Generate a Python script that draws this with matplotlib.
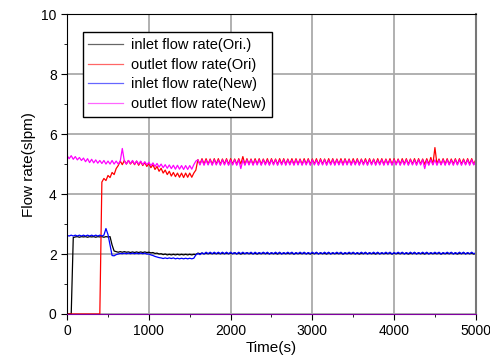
import numpy as np
import matplotlib
matplotlib.use("Agg")
import matplotlib.pyplot as plt
from matplotlib.ticker import MultipleLocator

plt.rcParams['font.family'] = ['Liberation Sans', 'DejaVu Sans']

# sample times (s), 25 s spacing
time_s = np.arange(0, 5001, 25)

inlet_ori = [
    0, 0, 0, 2.55, 2.57, 2.58, 2.56, 2.58, 2.57, 2.58, 2.56, 2.58, 2.57, 2.58, 2.56, 2.58, 2.57, 2.58, 2.56, 2.58,
    2.57, 2.58, 2.30, 2.10, 2.08, 2.06, 2.08, 2.06, 2.08, 2.06, 2.07, 2.05, 2.07, 2.05, 2.07, 2.05, 2.07, 2.05, 2.07, 2.05,
    2.06, 2.04, 2.05, 2.02, 2.03, 2.00, 2.01, 1.98, 2.00, 1.97, 1.99, 1.97, 1.99, 1.97, 1.99, 1.97, 1.99, 1.97, 1.99, 1.97,
    1.99, 1.97, 1.99, 1.98, 2.03, 2.01, 2.03, 2.01, 2.03, 2.01, 2.03, 2.01, 2.03, 2.01, 2.03, 2.01, 2.03, 2.01, 2.03, 2.01,
    2.03, 2.01, 2.04, 2.01, 2.03, 2.00, 2.03, 2.01, 2.04, 2.01, 2.03, 2.01, 2.03, 2.00, 2.03, 2.01, 2.04, 2.01, 2.03, 2.01,
    2.03, 2.01, 2.03, 2.00, 2.04, 2.01, 2.03, 2.01, 2.03, 2.01, 2.04, 2.00, 2.03, 2.01, 2.03, 2.01, 2.04, 2.01, 2.03, 2.00,
    2.03, 2.01, 2.04, 2.01, 2.03, 2.01, 2.03, 2.00, 2.04, 2.01, 2.03, 2.01, 2.03, 2.01, 2.04, 2.00, 2.03, 2.01, 2.03, 2.01,
    2.04, 2.01, 2.03, 2.00, 2.03, 2.01, 2.04, 2.01, 2.03, 2.01, 2.03, 2.00, 2.04, 2.01, 2.03, 2.01, 2.03, 2.01, 2.04, 2.00,
    2.03, 2.01, 2.03, 2.01, 2.04, 2.01, 2.03, 2.00, 2.03, 2.01, 2.04, 2.01, 2.03, 2.01, 2.03, 2.00, 2.04, 2.01, 2.03, 2.01,
    2.03, 2.01, 2.04, 2.00, 2.03, 2.01, 2.03, 2.01, 2.04, 2.01, 2.03, 2.00, 2.03, 2.01, 2.04, 2.01, 2.03, 2.01, 2.03, 2.00,
    2.02,
]

outlet_ori = [
    0, 0, 0, 0, 0, 0, 0, 0, 0, 0, 0, 0, 0, 0, 0, 0, 0, 4.40, 4.52, 4.45,
    4.62, 4.55, 4.72, 4.65, 4.85, 4.95, 5.10, 4.98, 5.12, 5.00, 5.12, 5.00, 5.10, 4.98, 5.10, 4.96, 5.08, 4.95, 5.05, 4.92,
    5.02, 4.88, 4.98, 4.82, 4.92, 4.76, 4.86, 4.70, 4.80, 4.65, 4.76, 4.60, 4.72, 4.58, 4.70, 4.56, 4.70, 4.55, 4.70, 4.56,
    4.70, 4.56, 4.70, 4.80, 5.15, 5.00, 5.18, 5.00, 5.18, 5.00, 5.17, 4.99, 5.18, 5.00, 5.18, 4.99, 5.17, 5.00, 5.18, 4.99,
    5.18, 5.00, 5.17, 4.99, 5.18, 5.00, 5.25, 4.99, 5.18, 5.00, 5.17, 4.99, 5.18, 5.00, 5.18, 4.99, 5.17, 5.00, 5.18, 4.99,
    5.18, 5.00, 5.17, 4.99, 5.18, 5.00, 5.18, 4.99, 5.17, 5.00, 5.18, 4.99, 5.18, 5.00, 5.17, 4.99, 5.18, 5.00, 5.18, 4.99,
    5.17, 5.00, 5.18, 4.99, 5.18, 5.00, 5.17, 4.99, 5.18, 5.00, 5.18, 4.99, 5.17, 5.00, 5.18, 4.99, 5.18, 5.00, 5.17, 4.99,
    5.18, 5.00, 5.18, 4.99, 5.17, 5.00, 5.18, 4.99, 5.18, 5.00, 5.17, 4.99, 5.18, 5.00, 5.18, 4.99, 5.17, 5.00, 5.18, 4.99,
    5.18, 5.00, 5.17, 4.99, 5.18, 5.00, 5.18, 4.99, 5.17, 5.00, 5.18, 4.99, 5.18, 5.00, 5.17, 4.99, 5.18, 5.00, 5.22, 4.99,
    5.55, 5.00, 5.17, 4.99, 5.18, 5.00, 5.18, 4.99, 5.17, 5.00, 5.18, 4.99, 5.18, 5.00, 5.17, 4.99, 5.18, 5.00, 5.18, 4.99,
    5.15,
]

inlet_new = [
    2.62, 2.60, 2.63, 2.60, 2.63, 2.60, 2.63, 2.60, 2.63, 2.60, 2.63, 2.60, 2.63, 2.60, 2.63, 2.60, 2.63, 2.60, 2.63, 2.85,
    2.65, 2.30, 1.95, 1.94, 1.98, 2.00, 2.02, 2.01, 2.03, 2.01, 2.03, 2.01, 2.03, 2.01, 2.03, 2.01, 2.03, 2.01, 2.03, 2.00,
    2.00, 1.97, 1.95, 1.92, 1.90, 1.88, 1.87, 1.85, 1.87, 1.85, 1.87, 1.85, 1.87, 1.84, 1.86, 1.84, 1.86, 1.84, 1.86, 1.84,
    1.86, 1.84, 1.86, 1.97, 2.02, 1.98, 2.04, 2.00, 2.06, 2.01, 2.06, 2.01, 2.06, 2.01, 2.06, 2.01, 2.06, 2.01, 2.06, 2.01,
    2.06, 2.01, 2.05, 2.00, 2.06, 2.01, 2.06, 2.01, 2.05, 2.01, 2.06, 2.00, 2.06, 2.01, 2.05, 2.01, 2.06, 2.01, 2.06, 2.00,
    2.05, 2.01, 2.06, 2.01, 2.06, 2.00, 2.05, 2.01, 2.06, 2.01, 2.06, 2.00, 2.05, 2.01, 2.06, 2.01, 2.06, 2.00, 2.05, 2.01,
    2.06, 2.01, 2.06, 2.00, 2.05, 2.01, 2.06, 2.01, 2.06, 2.00, 2.05, 2.01, 2.06, 2.01, 2.06, 2.00, 2.05, 2.01, 2.06, 2.01,
    2.06, 2.00, 2.05, 2.01, 2.06, 2.01, 2.06, 2.00, 2.05, 2.01, 2.06, 2.01, 2.06, 2.00, 2.05, 2.01, 2.06, 2.01, 2.06, 2.00,
    2.05, 2.01, 2.06, 2.01, 2.06, 2.00, 2.05, 2.01, 2.06, 2.01, 2.06, 2.00, 2.05, 2.01, 2.06, 2.01, 2.06, 2.00, 2.05, 2.01,
    2.06, 2.01, 2.06, 2.00, 2.05, 2.01, 2.06, 2.01, 2.06, 2.00, 2.05, 2.01, 2.06, 2.01, 2.06, 2.00, 2.05, 2.01, 2.06, 2.01,
    2.04,
]

outlet_new = [
    5.28, 5.18, 5.28, 5.16, 5.25, 5.14, 5.22, 5.12, 5.20, 5.08, 5.18, 5.05, 5.16, 5.04, 5.14, 5.03, 5.12, 5.02, 5.12, 5.00,
    5.10, 5.00, 5.12, 5.00, 5.10, 5.00, 5.10, 5.52, 5.10, 5.00, 5.12, 5.02, 5.12, 5.00, 5.10, 5.00, 5.10, 4.98, 5.08, 4.98,
    5.06, 4.95, 5.04, 4.92, 5.02, 4.90, 5.00, 4.88, 4.98, 4.86, 4.97, 4.85, 4.96, 4.83, 4.96, 4.83, 4.95, 4.82, 4.95, 4.82,
    4.95, 4.83, 4.98, 5.10, 5.14, 4.97, 5.14, 4.96, 5.13, 4.97, 5.14, 4.96, 5.14, 4.97, 5.13, 4.96, 5.14, 4.97, 5.14, 4.96,
    5.13, 4.97, 5.14, 4.96, 5.14, 4.85, 5.13, 4.96, 5.14, 4.97, 5.14, 4.96, 5.13, 4.97, 5.14, 4.96, 5.14, 4.97, 5.13, 4.96,
    5.14, 4.97, 5.14, 4.96, 5.13, 4.97, 5.14, 4.96, 5.14, 4.97, 5.13, 4.96, 5.14, 4.97, 5.14, 4.96, 5.13, 4.97, 5.14, 4.96,
    5.14, 4.97, 5.13, 4.96, 5.14, 4.97, 5.14, 4.96, 5.13, 4.97, 5.14, 4.96, 5.14, 4.97, 5.13, 4.96, 5.14, 4.97, 5.14, 4.96,
    5.13, 4.97, 5.14, 4.96, 5.14, 4.97, 5.13, 4.96, 5.14, 4.97, 5.14, 4.96, 5.13, 4.97, 5.14, 4.96, 5.14, 4.97, 5.13, 4.96,
    5.14, 4.97, 5.14, 4.96, 5.13, 4.97, 5.14, 4.96, 5.14, 4.97, 5.13, 4.96, 5.14, 4.97, 5.14, 4.85, 5.13, 4.96, 5.14, 4.97,
    5.14, 4.96, 5.13, 4.97, 5.14, 4.96, 5.14, 4.97, 5.13, 4.96, 5.14, 4.97, 5.14, 4.96, 5.13, 4.97, 5.14, 4.96, 5.14, 4.97,
    5.10,
]

labels = ['inlet flow rate(Ori.)', 'outlet flow rate(Ori)',
          'inlet flow rate(New)', 'outlet flow rate(New)']
colors = ['black', 'red', 'blue', 'magenta']

fig = plt.figure(figsize=(4.9, 3.63), dpi=100)
ax = fig.add_axes([0.137, 0.135, 0.834, 0.826])

for y, lab, c in zip([inlet_ori, outlet_ori, inlet_new, outlet_new], labels, colors):
    ax.plot(time_s, y, color=c, lw=0.9, label=lab)

ax.set_xlim(0, 5000)
ax.set_ylim(0, 10)
ax.xaxis.set_major_locator(MultipleLocator(1000))
ax.xaxis.set_minor_locator(MultipleLocator(500))
ax.yaxis.set_major_locator(MultipleLocator(2))
ax.yaxis.set_minor_locator(MultipleLocator(1))
ax.grid(True, which='major', color='#aaaaaa', lw=1.3)
ax.set_axisbelow(True)
ax.tick_params(which='major', direction='out', length=4, labelsize=10)
ax.tick_params(which='minor', direction='out', length=2.5)
ax.spines['bottom'].set_color('#8000a0')
ax.spines['right'].set_color('#777777')
ax.spines['right'].set_linewidth(1.5)

ax.set_xlabel('Time(s)', fontsize=11, labelpad=2)
ax.set_ylabel('Flow rate(slpm)', fontsize=11, labelpad=4)

leg = ax.legend(loc='upper left', bbox_to_anchor=(0.02, 0.965), fontsize=10.5,
                frameon=True, fancybox=False, edgecolor='black', framealpha=1,
                handlelength=2.4, labelspacing=0.4, borderpad=0.4, handletextpad=0.5)
leg.get_frame().set_linewidth(1.0)
for h in leg.get_lines():
    h.set_alpha(0.6)

fig.savefig('out.png', dpi=100)
